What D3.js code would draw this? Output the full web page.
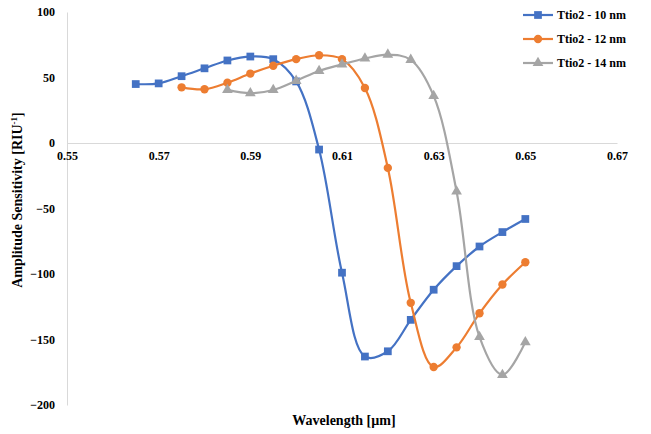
<!DOCTYPE html>
<html>
<head>
<meta charset="utf-8">
<script src="https://cdn.jsdelivr.net/npm/d3@7"></script>
<style>
  body { margin: 0; background: #fff; }
  svg text { font-family: "Liberation Serif", "Times New Roman", serif; font-weight: bold; }
</style>
</head>
<body>
<svg id="chart" width="651" height="434"></svg>
<script>
// wavelengths (µm) and amplitude sensitivity for each TiO2 thickness
const wl10 = [0.565, 0.57, 0.575, 0.58, 0.585, 0.59, 0.595, 0.60, 0.605, 0.61, 0.615, 0.62, 0.625, 0.63, 0.635, 0.64, 0.645, 0.65];
const as10 = [45, 45.5, 51, 57, 63, 66, 64, 47, -5, -99, -163, -159, -135, -112, -94, -79, -68, -58];

const wl12 = [0.575, 0.58, 0.585, 0.59, 0.595, 0.60, 0.605, 0.61, 0.615, 0.62, 0.625, 0.63, 0.635, 0.64, 0.645, 0.65];
const as12 = [42.5, 41, 46, 53, 59, 64, 67, 64, 42, -19, -122, -171, -156, -130, -108, -91];

const wl14 = [0.585, 0.59, 0.595, 0.60, 0.605, 0.61, 0.615, 0.62, 0.625, 0.63, 0.635, 0.64, 0.645, 0.65];
const as14 = [40.5, 38, 40.5, 47.5, 55, 60, 64.5, 67.5, 63.5, 36, -37, -148, -177, -152];

const seriesNames = ['Ttio2 - 10 nm', 'Ttio2 - 12 nm', 'Ttio2 - 14 nm'];
const seriesColors = ['#4472C4', '#ED7D31', '#A5A5A5'];
const xTicks = [0.55, 0.57, 0.59, 0.61, 0.63, 0.65, 0.67];
const yTicks = [-200, -150, -100, -50, 0, 50, 100];

const series = [
  { name: seriesNames[0], color: seriesColors[0], sym: d3.symbolSquare, size: 60, pts: wl10.map((w, i) => [w, as10[i]]) },
  { name: seriesNames[1], color: seriesColors[1], sym: d3.symbolCircle, size: 55, pts: wl12.map((w, i) => [w, as12[i]]) },
  { name: seriesNames[2], color: seriesColors[2], sym: d3.symbolTriangle, size: 50, pts: wl14.map((w, i) => [w, as14[i]]) }
];

const svg = d3.select('#chart');

const x = d3.scaleLinear().domain([0.55, 0.67]).range([67, 617]);
const y = d3.scaleLinear().domain([-200, 100]).range([405, 12]);

// y axis
const gy = svg.append('g')
    .attr('transform', 'translate(67,0)')
    .call(d3.axisLeft(y).tickValues(yTicks).tickSize(0).tickPadding(12).tickFormat(d3.format('d')));
gy.select('.domain').attr('stroke', '#d9d9d9');
gy.selectAll('text').attr('font-size', 12).attr('fill', '#000');

// x axis along zero
const gx = svg.append('g')
    .attr('transform', `translate(0,${y(0)})`)
    .call(d3.axisBottom(x).tickValues(xTicks).tickSize(0).tickPadding(8).tickFormat(d3.format('.2f')));
gx.select('.domain').attr('stroke', '#d9d9d9');
gx.selectAll('text').attr('font-size', 12).attr('fill', '#000');

const line = d3.line()
    .x(d => x(d[0]))
    .y(d => y(d[1]))
    .curve(d3.curveCatmullRom.alpha(0.5));

series.forEach(s => {
  svg.append('path')
      .datum(s.pts)
      .attr('fill', 'none')
      .attr('stroke', s.color)
      .attr('stroke-width', 2.2)
      .attr('d', line);

  svg.selectAll(null)
    .data(s.pts)
    .join('path')
      .attr('transform', d => `translate(${x(d[0])},${y(d[1])})`)
      .attr('d', d3.symbol().type(s.sym).size(s.size)())
      .attr('fill', s.color);
});

// axis titles
svg.append('text')
    .attr('transform', 'translate(22,200) rotate(-90)')
    .attr('text-anchor', 'middle')
    .attr('font-size', 14)
    .html('Amplitude Sensitivity [RIU<tspan baseline-shift="super" font-size="9">-1</tspan>]');

svg.append('text')
    .attr('x', 344)
    .attr('y', 425)
    .attr('text-anchor', 'middle')
    .attr('font-size', 14)
    .text('Wavelength [µm]');

// legend
const legend = svg.append('g');
series.forEach((s, i) => {
  const ly = 15 + i * 24;
  legend.append('line')
      .attr('x1', 523).attr('x2', 553)
      .attr('y1', ly).attr('y2', ly)
      .attr('stroke', s.color).attr('stroke-width', 2.2);
  legend.append('path')
      .attr('transform', `translate(538,${ly})`)
      .attr('d', d3.symbol().type(s.sym).size(s.size)())
      .attr('fill', s.color);
  legend.append('text')
      .attr('x', 557)
      .attr('y', ly + 4)
      .attr('font-size', 12)
      .text(s.name);
});
</script>
</body>
</html>
